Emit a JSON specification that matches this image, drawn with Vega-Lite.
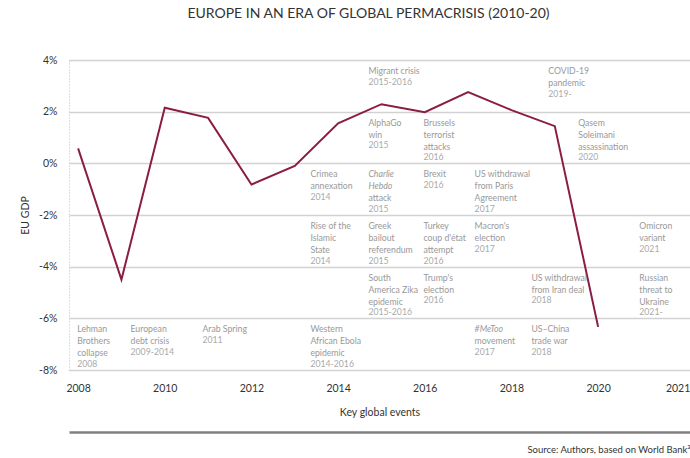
{
  "$schema": "https://vega.github.io/schema/vega-lite/v6.json",
  "autosize": {"type": "none"},
  "padding": {"left": 69, "top": 60, "right": 0, "bottom": 88},
  "width": 621,
  "height": 310,
  "background": "white",
  "config": {
    "view": {"stroke": null},
    "font": "Lato",
    "axis": {"labelFont": "Lato", "titleFont": "Lato"}
  },
  "title": {
    "text": "EUROPE IN AN ERA OF GLOBAL PERMACRISIS (2010-20)",
    "font": "Lato",
    "fontSize": 14,
    "fontWeight": "normal",
    "color": "#333333",
    "anchor": "middle",
    "frame": "group",
    "dx": -11,
    "offset": 34
  },
  "datasets": {
    "gdp": [
      {"year": 2008, "gdp": 0.58},
      {"year": 2009, "gdp": -4.5},
      {"year": 2010, "gdp": 2.15},
      {"year": 2011, "gdp": 1.76},
      {"year": 2012, "gdp": -0.82},
      {"year": 2013, "gdp": -0.1},
      {"year": 2014, "gdp": 1.55},
      {"year": 2015, "gdp": 2.29},
      {"year": 2016, "gdp": 1.98},
      {"year": 2017, "gdp": 2.76},
      {"year": 2018, "gdp": 2.06},
      {"year": 2019, "gdp": 1.44},
      {"year": 2020, "gdp": -6.33}
    ],
    "events": [
      {"x": 2014.7, "band": 4, "line": 0, "text": "Migrant crisis", "type": "t"},
      {"x": 2014.7, "band": 4, "line": 1, "text": "2015-2016", "type": "y"},
      {"x": 2018.85, "band": 4, "line": 0, "text": "COVID-19", "type": "t"},
      {"x": 2018.85, "band": 4, "line": 1, "text": "pandemic", "type": "t"},
      {"x": 2018.85, "band": 4, "line": 2, "text": "2019-", "type": "y"},

      {"x": 2014.7, "band": 2, "line": 0, "text": "AlphaGo", "type": "t"},
      {"x": 2014.7, "band": 2, "line": 1, "text": "win", "type": "t"},
      {"x": 2014.7, "band": 2, "line": 2, "text": "2015", "type": "y"},
      {"x": 2015.97, "band": 2, "line": 0, "text": "Brussels", "type": "t"},
      {"x": 2015.97, "band": 2, "line": 1, "text": "terrorist", "type": "t"},
      {"x": 2015.97, "band": 2, "line": 2, "text": "attacks", "type": "t"},
      {"x": 2015.97, "band": 2, "line": 3, "text": "2016", "type": "y"},
      {"x": 2019.54, "band": 2, "line": 0, "text": "Qasem", "type": "t"},
      {"x": 2019.54, "band": 2, "line": 1, "text": "Soleimani", "type": "t"},
      {"x": 2019.54, "band": 2, "line": 2, "text": "assassination", "type": "t"},
      {"x": 2019.54, "band": 2, "line": 3, "text": "2020", "type": "y"},

      {"x": 2013.36, "band": 0, "line": 0, "text": "Crimea", "type": "t"},
      {"x": 2013.36, "band": 0, "line": 1, "text": "annexation", "type": "t"},
      {"x": 2013.36, "band": 0, "line": 2, "text": "2014", "type": "y"},
      {"x": 2014.7, "band": 0, "line": 0, "text": "Charlie", "type": "i"},
      {"x": 2014.7, "band": 0, "line": 1, "text": "Hebdo", "type": "i"},
      {"x": 2014.7, "band": 0, "line": 2, "text": "attack", "type": "t"},
      {"x": 2014.7, "band": 0, "line": 3, "text": "2015", "type": "y"},
      {"x": 2015.97, "band": 0, "line": 0, "text": "Brexit", "type": "t"},
      {"x": 2015.97, "band": 0, "line": 1, "text": "2016", "type": "y"},
      {"x": 2017.15, "band": 0, "line": 0, "text": "US withdrawal", "type": "t"},
      {"x": 2017.15, "band": 0, "line": 1, "text": "from Paris", "type": "t"},
      {"x": 2017.15, "band": 0, "line": 2, "text": "Agreement", "type": "t"},
      {"x": 2017.15, "band": 0, "line": 3, "text": "2017", "type": "y"},

      {"x": 2013.36, "band": -2, "line": 0, "text": "Rise of the", "type": "t"},
      {"x": 2013.36, "band": -2, "line": 1, "text": "Islamic", "type": "t"},
      {"x": 2013.36, "band": -2, "line": 2, "text": "State", "type": "t"},
      {"x": 2013.36, "band": -2, "line": 3, "text": "2014", "type": "y"},
      {"x": 2014.7, "band": -2, "line": 0, "text": "Greek", "type": "t"},
      {"x": 2014.7, "band": -2, "line": 1, "text": "bailout", "type": "t"},
      {"x": 2014.7, "band": -2, "line": 2, "text": "referendum", "type": "t"},
      {"x": 2014.7, "band": -2, "line": 3, "text": "2015", "type": "y"},
      {"x": 2015.97, "band": -2, "line": 0, "text": "Turkey", "type": "t"},
      {"x": 2015.97, "band": -2, "line": 1, "text": "coup d'état", "type": "t"},
      {"x": 2015.97, "band": -2, "line": 2, "text": "attempt", "type": "t"},
      {"x": 2015.97, "band": -2, "line": 3, "text": "2016", "type": "y"},
      {"x": 2017.15, "band": -2, "line": 0, "text": "Macron's", "type": "t"},
      {"x": 2017.15, "band": -2, "line": 1, "text": "election", "type": "t"},
      {"x": 2017.15, "band": -2, "line": 2, "text": "2017", "type": "y"},
      {"x": 2020.95, "band": -2, "line": 0, "text": "Omicron", "type": "t"},
      {"x": 2020.95, "band": -2, "line": 1, "text": "variant", "type": "t"},
      {"x": 2020.95, "band": -2, "line": 2, "text": "2021", "type": "y"},

      {"x": 2014.7, "band": -4, "line": 0, "text": "South", "type": "t"},
      {"x": 2014.7, "band": -4, "line": 1, "text": "America Zika", "type": "t"},
      {"x": 2014.7, "band": -4, "line": 2, "text": "epidemic", "type": "t"},
      {"x": 2014.7, "band": -4, "line": 3, "text": "2015-2016", "type": "y"},
      {"x": 2015.97, "band": -4, "line": 0, "text": "Trump's", "type": "t"},
      {"x": 2015.97, "band": -4, "line": 1, "text": "election", "type": "t"},
      {"x": 2015.97, "band": -4, "line": 2, "text": "2016", "type": "y"},
      {"x": 2018.46, "band": -4, "line": 0, "text": "US withdrawal", "type": "t"},
      {"x": 2018.46, "band": -4, "line": 1, "text": "from Iran deal", "type": "t"},
      {"x": 2018.46, "band": -4, "line": 2, "text": "2018", "type": "y"},
      {"x": 2020.95, "band": -4, "line": 0, "text": "Russian", "type": "t"},
      {"x": 2020.95, "band": -4, "line": 1, "text": "threat to", "type": "t"},
      {"x": 2020.95, "band": -4, "line": 2, "text": "Ukraine", "type": "t"},
      {"x": 2020.95, "band": -4, "line": 3, "text": "2021-", "type": "y"},

      {"x": 2007.98, "band": -6, "line": 0, "text": "Lehman", "type": "t"},
      {"x": 2007.98, "band": -6, "line": 1, "text": "Brothers", "type": "t"},
      {"x": 2007.98, "band": -6, "line": 2, "text": "collapse", "type": "t"},
      {"x": 2007.98, "band": -6, "line": 3, "text": "2008", "type": "y"},
      {"x": 2009.21, "band": -6, "line": 0, "text": "European", "type": "t"},
      {"x": 2009.21, "band": -6, "line": 1, "text": "debt crisis", "type": "t"},
      {"x": 2009.21, "band": -6, "line": 2, "text": "2009-2014", "type": "y"},
      {"x": 2010.87, "band": -6, "line": 0, "text": "Arab Spring", "type": "t"},
      {"x": 2010.87, "band": -6, "line": 1, "text": "2011", "type": "y"},
      {"x": 2013.36, "band": -6, "line": 0, "text": "Western", "type": "t"},
      {"x": 2013.36, "band": -6, "line": 1, "text": "African Ebola", "type": "t"},
      {"x": 2013.36, "band": -6, "line": 2, "text": "epidemic", "type": "t"},
      {"x": 2013.36, "band": -6, "line": 3, "text": "2014-2016", "type": "y"},
      {"x": 2017.15, "band": -6, "line": 0, "text": "#MeToo", "type": "i"},
      {"x": 2017.15, "band": -6, "line": 1, "text": "movement", "type": "t"},
      {"x": 2017.15, "band": -6, "line": 2, "text": "2017", "type": "y"},
      {"x": 2018.46, "band": -6, "line": 0, "text": "US–China", "type": "t"},
      {"x": 2018.46, "band": -6, "line": 1, "text": "trade war", "type": "t"},
      {"x": 2018.46, "band": -6, "line": 2, "text": "2018", "type": "y"}
    ]
  },
  "layer": [
    {
      "layer": [
        {
          "data": {"name": "gdp"},
          "mark": {"type": "line", "color": "#8b1d41", "strokeWidth": 2},
          "encoding": {
            "x": {
              "field": "year",
              "type": "quantitative",
              "scale": {"domain": [2007.79, 2022.12], "nice": false, "zero": false},
              "axis": {
                "values": [2008, 2010, 2012, 2014, 2016, 2018, 2020, 2022],
                "labelExpr": "datum.value == 2022 ? '2021' : format(datum.value, 'd')",
                "labelAlign": {"condition": {"test": "datum.value == 2022", "value": "right"}, "value": "center"},
                "labelOffset": {"condition": {"test": "datum.value == 2022", "value": 5}, "value": 0},
                "grid": false,
                "domain": false,
                "ticks": false,
                "labelFontSize": 10.5,
                "labelColor": "#333333",
                "labelPadding": 13,
                "title": "Key global events",
                "titleFontSize": 10.5,
                "titleFontWeight": "normal",
                "titleColor": "#333333",
                "titlePadding": 14
              }
            },
            "y": {
              "field": "gdp",
              "type": "quantitative",
              "scale": {"domain": [-8, 4], "nice": false, "zero": false},
              "axis": {
                "values": [-8, -6, -4, -2, 0, 2, 4],
                "labelExpr": "datum.value + '%'",
                "grid": true,
                "gridColor": "#d2d2d2",
                "gridWidth": 1.5,
                "domain": true,
                "domainColor": "#bbbbbb",
                "domainDash": [1, 2],
                "domainWidth": 1,
                "ticks": false,
                "labelFontSize": 10.5,
                "labelColor": "#333333",
                "labelPadding": 12,
                "title": "EU GDP",
                "titleFontSize": 10.5,
                "titleFontWeight": "normal",
                "titleColor": "#333333",
                "titlePadding": 8
              }
            }
          }
        },
        {
          "data": {"name": "events"},
          "mark": {
            "type": "text",
            "align": "left",
            "baseline": "middle",
            "font": "Lato",
            "dy": {"expr": "11 + 12 * datum.line - (datum.type == 'y' ? 1.5 : 0)"},
            "fontStyle": {"expr": "datum.type == 'i' ? 'italic' : 'normal'"}
          },
          "encoding": {
            "x": {"field": "x", "type": "quantitative"},
            "y": {"field": "band", "type": "quantitative"},
            "text": {"field": "text"},
            "color": {
              "field": "type",
              "type": "nominal",
              "scale": {"domain": ["t", "i", "y"], "range": ["#999999", "#999999", "#aaaaaa"]},
              "legend": null
            },
            "size": {
              "field": "type",
              "type": "nominal",
              "scale": {"domain": ["t", "i", "y"], "range": [8.7, 8.7, 7.2]},
              "legend": null
            }
          }
        }
      ]
    },
    {
      "data": {"name": "gdp"},
      "mark": {"type": "rule", "strokeOpacity": 0},
      "encoding": {
        "x": {
          "field": "year",
          "type": "quantitative",
          "axis": {
            "orient": "bottom",
            "offset": 62,
            "labels": false,
            "ticks": false,
            "grid": false,
            "domain": true,
            "domainColor": "#808080",
            "domainWidth": 2.5,
            "title": "Source: Authors, based on World Bank³",
            "titleAnchor": "end",
            "titleFontSize": 9.5,
            "titleFontWeight": "normal",
            "titleColor": "#333333",
            "titlePadding": 12
          }
        }
      }
    }
  ],
  "resolve": {"scale": {"x": "independent"}, "axis": {"x": "independent"}}
}
